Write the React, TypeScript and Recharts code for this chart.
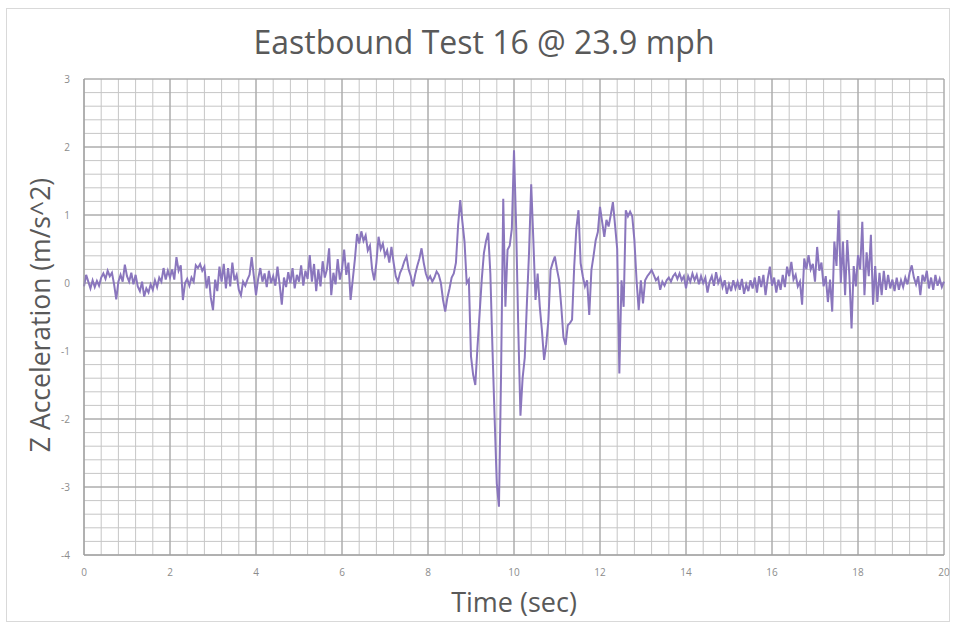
import { CartesianGrid, Line, LineChart, XAxis, YAxis } from 'recharts'

// Z acceleration samples, one every 0.05 s, in 2-second blocks
const accel00 = [
  -0.05, 0.12, 0.02, -0.08, 0.04, -0.06, 0.03, -0.04, 0.08, 0.14,
  0.06, 0.18, 0.1, 0.15, -0.02, -0.24, 0.02, 0.12, 0.02, 0.27,
  0.1, 0.02, 0.15, -0.02, 0.12, -0.05, -0.12, 0.02, -0.2, -0.08,
  -0.14, -0.02, -0.1, 0.04, -0.06, 0.08, 0.02, 0.22, 0.05, 0.18,
]
const accel02 = [
  0.08, 0.2, 0.05, 0.38, 0.18, 0.26, -0.25, 0.0, 0.06, -0.04,
  0.08, 0.02, 0.26, 0.22, 0.28, 0.18, 0.24, -0.08, 0.1, -0.22,
  -0.4, 0.05, -0.12, 0.24, 0.02, 0.28, -0.08, 0.22, -0.05, 0.3,
  0.04, 0.12, -0.1, -0.18, 0.02, -0.04, 0.05, 0.12, 0.38, 0.1,
]
const accel04 = [
  -0.18, 0.06, 0.22, 0.02, 0.14, -0.06, 0.18, 0.0, 0.1, -0.04,
  0.24, -0.02, -0.32, 0.08, -0.06, 0.16, 0.0, 0.22, -0.08, 0.12,
  0.02, 0.26, -0.04, 0.18, 0.06, 0.41, 0.02, 0.28, -0.12, 0.2,
  -0.05, 0.32, 0.08, 0.2, 0.51, -0.18, 0.15, -0.02, 0.35, 0.05,
]
const accel06 = [
  0.2, 0.49, 0.12, 0.3, -0.25, 0.05, 0.35, 0.72, 0.58, 0.76,
  0.62, 0.7, 0.48, 0.55, 0.2, 0.04, 0.3, 0.68, 0.5, 0.58,
  0.4, 0.48, 0.3, 0.53, 0.3, 0.1, 0.02, 0.15, 0.22, 0.32,
  0.39, 0.2, 0.1, -0.05, 0.12, 0.25, 0.36, 0.51, 0.3, 0.14,
]
const accel08 = [
  0.05, 0.1, 0.02, 0.08, 0.17, 0.12, 0.0, -0.25, -0.42, -0.22,
  -0.08, 0.08, 0.14, 0.3, 0.85, 1.22, 0.9, 0.6, 0.0, 0.05,
  -1.08, -1.35, -1.5, -0.95, -0.45, 0.05, 0.44, 0.62, 0.74, 0.14,
  -0.98, -2.0, -2.95, -3.29, -1.3, 1.24, -0.35, 0.49, 0.55, 0.8,
]
const accel10 = [
  1.95, 0.83, -0.69, -1.95, -1.4, -1.1, -0.3, 0.45, 1.45, 0.63,
  -0.25, 0.14, -0.35, -0.7, -1.13, -0.9, -0.54, 0.19, 0.3, 0.39,
  0.2, 0.04, -0.35, -0.8, -0.91, -0.62, -0.59, -0.54, 0.24, 0.8,
  1.07, 0.29, 0.1, -0.05, 0.04, -0.47, 0.19, 0.4, 0.63, 0.75,
]
const accel12 = [
  1.12, 0.9, 0.68, 0.93, 0.83, 1.0, 1.19, 0.85, 0.5, -1.33,
  0.04, -0.35, 1.07, 0.98, 1.05, 0.98, 0.63, 0.04, -0.4, 0.04,
  -0.3, 0.04, 0.1, 0.14, 0.19, 0.12, 0.04, 0.08, -0.1, 0.02,
  -0.04, 0.04, 0.08, 0.02, 0.1, 0.14, 0.06, 0.14, 0.04, 0.1,
]
const accel14 = [
  -0.08, 0.1, 0.02, 0.14, 0.04, 0.12, -0.02, 0.1, 0.0, 0.08,
  -0.14, 0.02, 0.1, -0.04, 0.16, 0.0, 0.08, -0.06, 0.04, -0.16,
  -0.02, -0.12, 0.04, -0.08, 0.02, -0.1, 0.06, -0.16, -0.02, -0.12,
  0.04, -0.08, 0.08, -0.14, 0.1, -0.06, 0.12, -0.18, 0.06, 0.24,
]
const accel16 = [
  -0.04, 0.08, -0.14, 0.05, -0.1, 0.12, -0.06, 0.24, 0.1, 0.31,
  0.05, 0.12, -0.05, 0.02, -0.32, 0.36, 0.2, 0.41, 0.2, 0.28,
  0.02, 0.53, 0.18, 0.3, -0.05, 0.1, -0.28, 0.05, -0.42, 0.61,
  0.25, 1.07, 0.0, 0.61, -0.18, 0.63, 0.1, -0.67, 0.25, -0.05,
]
const accel18 = [
  0.41, 0.2, 0.9, -0.18, 0.45, 0.1, 0.71, -0.32, 0.25, -0.28,
  0.15, -0.18, 0.18, -0.1, 0.12, -0.08, 0.05, -0.12, 0.08, -0.1,
  0.04, -0.06, 0.08, -0.02, 0.15, 0.26, 0.08, -0.02, 0.1, -0.18,
  0.12, 0.02, 0.18, -0.08, 0.08, -0.1, 0.12, -0.04, 0.06, -0.06,
  0.02,
]

const SAMPLE_STEP = 0.05
const xTicks = [0, 2, 4, 6, 8, 10, 12, 14, 16, 18, 20]
const yTicks = [-4, -3, -2, -1, 0, 1, 2, 3]

const samples = [
  ...accel00, ...accel02, ...accel04, ...accel06, ...accel08,
  ...accel10, ...accel12, ...accel14, ...accel16, ...accel18,
]
const data = samples.map((z, i) => ({ t: Math.round(i * SAMPLE_STEP * 100) / 100, z }))

// minor grid: every 0.4 s and every 0.2 m/s^2
const minorX = Array.from({ length: 51 }, (_, i) => Math.round(i * 0.4 * 10) / 10)
const minorY = Array.from({ length: 36 }, (_, i) => Math.round((-4 + i * 0.2) * 10) / 10)

const FONT = '"Open Sans", "Liberation Sans", sans-serif'
const tick = { fill: '#8c8c8c', fontSize: 10, fontFamily: FONT }

export default function App() {
  return (
    <div style={{ position: 'absolute', left: 0, top: 0, width: 956, height: 630, background: '#fff' }}>
      <div
        style={{
          position: 'absolute',
          left: 6,
          top: 8,
          width: 944,
          height: 614,
          border: '1px solid #d9d9d9',
          boxSizing: 'border-box',
        }}
      />
      <div
        style={{
          position: 'absolute',
          left: 0,
          width: 968,
          top: 20,
          textAlign: 'center',
          fontFamily: FONT,
          fontSize: 32,
          color: '#595959',
        }}
      >
        Eastbound Test 16 @ 23.9 mph
      </div>
      <LineChart
        width={956}
        height={630}
        data={data}
        margin={{ top: 79, right: 12, bottom: 45, left: 54 }}
      >
        <CartesianGrid
          stroke="#c6c6c6"
          strokeWidth={1}
          horizontalValues={minorY}
          verticalValues={minorX}
        />
        <CartesianGrid
          stroke="#a0a0a0"
          strokeWidth={1}
          horizontalValues={yTicks}
          verticalValues={xTicks}
        />
        <XAxis
          dataKey="t"
          type="number"
          domain={[0, 20]}
          ticks={xTicks}
          tick={tick}
          tickLine={false}
          axisLine={{ stroke: '#a0a0a0' }}
          tickMargin={8}
          height={30}
          interval={0}
        />
        <YAxis
          type="number"
          domain={[-4, 3]}
          ticks={yTicks}
          tick={tick}
          tickLine={false}
          axisLine={{ stroke: '#a0a0a0' }}
          tickMargin={8}
          width={30}
          interval={0}
        />
        <Line
          type="linear"
          dataKey="z"
          stroke="#8a76bd"
          strokeWidth={2}
          dot={false}
          isAnimationActive={false}
        />
      </LineChart>
      <div
        style={{
          position: 'absolute',
          left: 414,
          width: 200,
          top: 583,
          textAlign: 'center',
          fontFamily: FONT,
          fontSize: 27,
          color: '#595959',
        }}
      >
        Time (sec)
      </div>
      <div
        style={{
          position: 'absolute',
          left: 40,
          top: 316,
          width: 340,
          marginLeft: -170,
          marginTop: -19,
          textAlign: 'center',
          transform: 'rotate(-90deg)',
          fontFamily: FONT,
          fontSize: 26.5,
          color: '#595959',
        }}
      >
        Z Acceleration (m/s^2)
      </div>
    </div>
  )
}
